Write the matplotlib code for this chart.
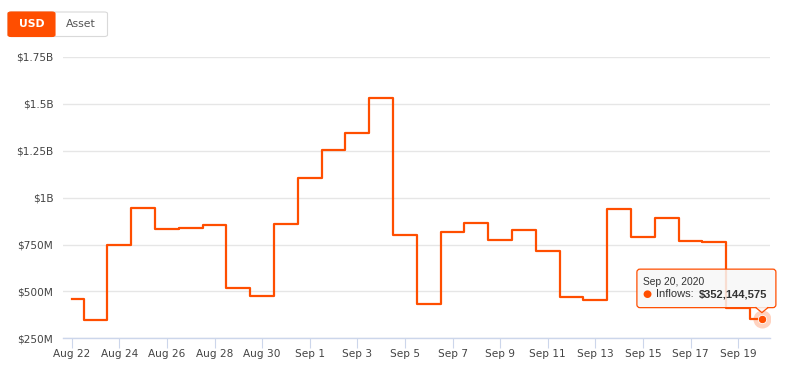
import matplotlib
matplotlib.use('Agg')
import matplotlib.pyplot as plt
import matplotlib.dates as mdates
import matplotlib.transforms as mtransforms
from matplotlib.patches import FancyBboxPatch, Polygon
from matplotlib.ticker import FuncFormatter
import pandas as pd

# ---- data (USD, millions) ----
dates = pd.date_range('2020-08-22', '2020-09-20', freq='D')
inflows_m = [461, 348, 748, 943, 832, 838, 852, 518, 474, 860,
             1106, 1253, 1346, 1532, 803, 434, 815, 864, 772, 828,
             714, 470, 452, 938, 790, 890, 767, 764, 412, 352.144575]
tick_dates = pd.date_range('2020-08-22', '2020-09-19', freq='2D')
tick_labels = ['Aug 22', 'Aug 24', 'Aug 26', 'Aug 28', 'Aug 30', 'Sep 1', 'Sep 3',
               'Sep 5', 'Sep 7', 'Sep 9', 'Sep 11', 'Sep 13', 'Sep 15', 'Sep 17', 'Sep 19']
y_ticks = [250, 500, 750, 1000, 1250, 1500, 1750]
buttons = ['USD', 'Asset']
tooltip_date = 'Sep 20, 2020'
tooltip_value = '$352,144,575'

ORANGE = '#ff4e00'
W, H = 790, 388

plt.rcParams['font.family'] = ['DejaVu Sans']
fig = plt.figure(figsize=(W / 100, H / 100), dpi=100)
ax = fig.add_axes([63 / W, 1 - 338.3 / H, (770 - 63) / W, (338.3 - 57) / H])

x = mdates.date2num(dates)
ax.step(x, inflows_m, where='mid', color=ORANGE, lw=1.6, zorder=3)

# limits: one day ~23.8 px
day_px = 23.8
x0 = mdates.date2num(pd.Timestamp('2020-08-22'))
ax.set_xlim(x0 - (71.7 - 63) / day_px, x0 + (770 - 71.7) / day_px)
ax.set_ylim(250, 1750)

def fmt_usd(v, pos):
    if v >= 1000:
        s = f'{v / 1000:.2f}'.rstrip('0').rstrip('.')
        return f'${s}B'
    return f'${v:.0f}M'

ax.set_yticks(y_ticks)
ax.yaxis.set_major_formatter(FuncFormatter(fmt_usd))
ax.set_xticks(mdates.date2num(tick_dates))
ax.set_xticklabels(tick_labels)

ax.grid(axis='y', color='#e6e6e6', lw=1)
ax.set_axisbelow(True)
for side in ['top', 'right', 'left']:
    ax.spines[side].set_visible(False)
ax.spines['bottom'].set_color('#ccd6eb')
ax.spines['bottom'].set_linewidth(1)
ax.tick_params(axis='y', length=0, pad=7, labelsize=7.6, labelcolor='#444444')
ax.tick_params(axis='x', length=7, width=0.8, color='#ccd6eb', direction='out',
               pad=1, labelsize=7.6, labelcolor='#444444')

# last point marker with halo
ax.plot(x[-1], inflows_m[-1], 'o', ms=13, color=ORANGE, alpha=0.25, mec='none', zorder=4)
ax.plot(x[-1], inflows_m[-1], 'o', ms=6, color=ORANGE, mec='white', mew=0.6, zorder=5)

# tooltip, drawn in pixel offsets from the last point
px, py = ax.transData.transform((x[-1], inflows_m[-1]))
off = mtransforms.Affine2D().translate(px, py)
tip_bg = (0.97, 0.97, 0.97, 0.85)
box = FancyBboxPatch((-125, 11.5), 139, 38.5, boxstyle='round,pad=0,rounding_size=3',
                     transform=off, facecolor=tip_bg, edgecolor=ORANGE, lw=0.9, zorder=6)
fig.add_artist(box)
tri = Polygon([(-6, 12.2), (6, 12.2), (0, 6.5)], closed=True, transform=off,
              facecolor=tip_bg, edgecolor='none', zorder=7)
fig.add_artist(tri)
fig.add_artist(plt.Line2D([-6, 0, 6], [11.5, 6.5, 11.5], transform=off,
                          color=ORANGE, lw=0.9, zorder=7))
tip_font = ['Liberation Sans', 'DejaVu Sans']
fig.text(-118.7, 37.4, tooltip_date, transform=off, fontsize=7.4, color='#333333',
         family=tip_font, va='center', ha='left', zorder=8)
fig.text(-114.7, 25.1, '\u25cf', transform=off, fontsize=7.5, color=ORANGE,
         va='center', ha='center', zorder=8)
fig.text(-105.7, 25.1, 'Inflows:', transform=off, fontsize=8, color='#333333',
         family=tip_font, va='center', ha='left', zorder=8)
fig.text(5.3, 25.1, tooltip_value, transform=off, fontsize=8, color='#333333',
         family=tip_font, fontweight='bold', va='center', ha='right', zorder=8)

# USD / Asset toggle buttons (pixel coords from top-left)
def fig_xy(xp, yp):
    return xp / W, 1 - yp / H

bx, by, bh = 8, 12, 24.5
widths = [47, 52.5]
gx, gy = fig_xy(bx, by + bh)
fig.add_artist(FancyBboxPatch((gx, gy), sum(widths) / W, bh / H,
                              boxstyle='round,pad=0,rounding_size=0.004',
                              transform=fig.transFigure, facecolor='white',
                              edgecolor='#d9d9d9', lw=0.8))
ux, uy = fig_xy(bx, by + bh)
fig.add_artist(FancyBboxPatch((ux, uy), widths[0] / W, bh / H,
                              boxstyle='round,pad=0,rounding_size=0.004',
                              transform=fig.transFigure, facecolor=ORANGE,
                              edgecolor=ORANGE, lw=0.8))
cx = bx
for i, label in enumerate(buttons):
    tx, ty = fig_xy(cx + widths[i] / 2, by + bh / 2)
    if i == 0:
        fig.text(tx, ty, label, color='white', fontsize=7.8, fontweight='bold',
                 ha='center', va='center')
    else:
        fig.text(tx, ty, label, color='#555555', fontsize=7.8, ha='center', va='center')
    cx += widths[i]

fig.savefig('out.png', dpi=100)
